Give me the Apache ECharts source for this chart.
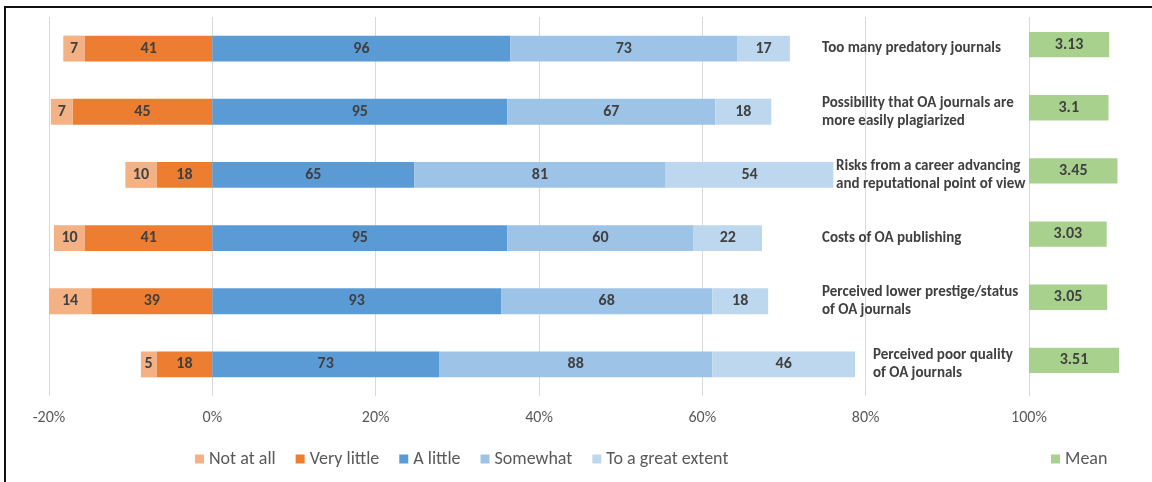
<!DOCTYPE html>
<html>
<head>
<meta charset="utf-8">
<script src="https://cdn.jsdelivr.net/npm/echarts@6/dist/echarts.min.js"></script>
<style>
html,body{margin:0;padding:0;background:#fff;}
#chart{width:1152px;height:482px;}
</style>
</head>
<body>
<div id="chart"></div>
<script>
// ---- data (top row first) ----
const categories = [
  "Too many predatory journals",
  "Possibility that OA journals are\nmore easily plagiarized",
  "Risks from a career advancing\nand reputational point of view",
  "Costs of OA publishing",
  "Perceived lower prestige/status\nof OA journals",
  "Perceived poor quality\nof OA journals"
];
const notAtAll   = [7, 7, 10, 10, 14, 5];
const veryLittle = [41, 45, 18, 41, 39, 18];
const aLittle    = [96, 95, 65, 95, 93, 73];
const somewhat   = [73, 67, 81, 60, 68, 88];
const greatExtent= [17, 18, 54, 22, 18, 46];
const means      = [3.13, 3.1, 3.45, 3.03, 3.05, 3.51];
const tickValues = [-20, 0, 20, 40, 60, 80, 100];
const respondents = 263; // estimated base used for the percentage scale

// ---- presentation ----
const FONT = "Carlito, Lato, 'Liberation Sans', sans-serif";
const labelIndent = [0, 0, 14, 0, 0, 51];
const meanScale = 3.14;
const GRID_L = 49, GRID_R = 123, W = 1152;
const pxPerUnit = (W - GRID_L - GRID_R) / 120;
const colors = {
  notAtAll: '#F4B183', veryLittle: '#ED7D31', aLittle: '#5B9BD5',
  somewhat: '#9DC3E6', greatExtent: '#BDD7EE', mean: '#A9D18E'
};

const pct = arr => arr.map(v => v / respondents * 100);
const neg = arr => arr.map(v => -v / respondents * 100);

const barLabel = counts => ({
  show: true, position: 'inside', color: '#404040', fontFamily: FONT,
  fontWeight: 'bold', fontSize: 16,
  formatter: p => String(counts[p.dataIndex])
});

function seg(name, values, counts, color) {
  return {
    name, type: 'bar', stack: 'likert', barWidth: '41%',
    xAxisIndex: 0, yAxisIndex: 0,
    itemStyle: { color }, label: barLabel(counts),
    data: values, silent: true
  };
}

const rich = {};
labelIndent.forEach((ind, i) => {
  rich['r' + i] = { fontFamily: FONT, fontWeight: 'bold', fontSize: 15, color: '#404040',
                    lineHeight: 18, padding: [0, 0, 0, ind] };
});

const legendText = { color: '#595959', fontFamily: FONT, fontSize: 18 };

const chart = echarts.init(document.getElementById('chart'), null, { renderer: 'canvas' });
chart.setOption({
  animation: false,
  backgroundColor: '#ffffff',
  grid: [
    { left: GRID_L, right: GRID_R, top: 17, bottom: 86, outerBoundsMode: 'none' },
    { left: W - GRID_R, right: 0, top: 13, bottom: 90, outerBoundsMode: 'none' }
  ],
  xAxis: [
    {
      gridIndex: 0, type: 'value', min: -20, max: 100, interval: 20,
      axisLine: { show: false }, axisTick: { show: false },
      splitLine: { show: true, lineStyle: { color: '#D9D9D9', width: 1 } },
      axisLabel: { color: '#595959', fontFamily: FONT, fontSize: 16, margin: 14,
                   formatter: v => tickValues.includes(v) ? v + '%' : '' }
    },
    {
      gridIndex: 1, type: 'value', min: 0, max: GRID_R / pxPerUnit, show: false
    }
  ],
  yAxis: [
    {
      gridIndex: 0, type: 'category', data: categories, inverse: true,
      position: 'right', offset: -215,
      axisLine: { show: false }, axisTick: { show: false }, splitLine: { show: false },
      axisLabel: {
        margin: 8, align: 'left',
        formatter: (v, i) => '{r' + i + '|' + v + '}',
        rich
      }
    },
    {
      gridIndex: 1, type: 'category', data: categories, inverse: true, show: false
    }
  ],
  legend: [
    {
      data: ['Not at all', 'Very little', 'A little', 'Somewhat', 'To a great extent'],
      left: 190, top: 445, itemWidth: 9, itemHeight: 9, itemGap: 20,
      icon: 'rect', textStyle: legendText
    },
    {
      data: ['Mean'], left: 1046, top: 445, itemWidth: 9, itemHeight: 9,
      icon: 'rect', textStyle: legendText
    }
  ],
  series: [
    seg('Very little', neg(veryLittle), veryLittle, colors.veryLittle),
    seg('Not at all', neg(notAtAll), notAtAll, colors.notAtAll),
    seg('A little', pct(aLittle), aLittle, colors.aLittle),
    seg('Somewhat', pct(somewhat), somewhat, colors.somewhat),
    seg('To a great extent', pct(greatExtent), greatExtent, colors.greatExtent),
    {
      name: 'Mean', type: 'bar', xAxisIndex: 1, yAxisIndex: 1, barWidth: '40%',
      itemStyle: { color: colors.mean }, silent: true,
      label: { show: true, position: 'inside', color: '#404040', fontFamily: FONT,
               fontWeight: 'bold', fontSize: 16, formatter: p => String(means[p.dataIndex]) },
      data: means.map(m => m * meanScale)
    }
  ],
  graphic: [
    { type: 'line', shape: { x1: 4, y1: 7, x2: 1152, y2: 7 }, style: { stroke: '#111', lineWidth: 2 } },
    { type: 'line', shape: { x1: 5, y1: 6, x2: 5, y2: 482 }, style: { stroke: '#111', lineWidth: 2 } }
  ]
});
</script>
</body>
</html>
